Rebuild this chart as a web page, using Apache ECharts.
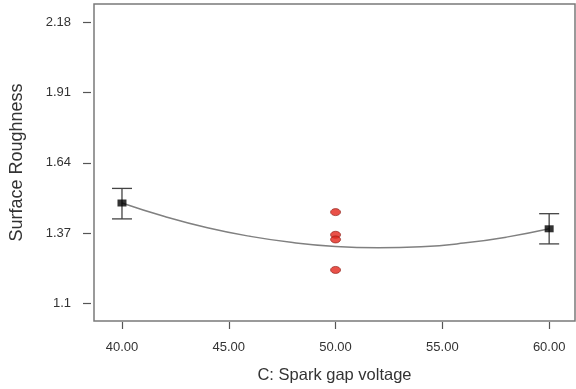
<!DOCTYPE html>
<html><head><meta charset="utf-8">
<script src="https://cdn.jsdelivr.net/npm/echarts@6/dist/echarts.min.js"></script>
<style>html,body{margin:0;padding:0;background:#fff}#c{width:576px;height:389px}</style>
</head><body><div id="c"></div>
<script>
// Data
const xTicks = [40, 45, 50, 55, 60];
const yTicks = [1.1, 1.37, 1.64, 1.91, 2.18];
const meanX = [40, 60];
const meanY = [1.486, 1.387];
const errLow = [1.425, 1.329];
const errHigh = [1.542, 1.445];
const centerX = [50, 50, 50, 50];
const centerY = [1.451, 1.364, 1.346, 1.229];
const curveX = [40, 42, 44, 46, 48, 50, 52, 54, 56, 58, 60];
const curveY = [1.486, 1.434, 1.391, 1.358, 1.334, 1.319, 1.314, 1.318, 1.332, 1.355, 1.387];

const chart = echarts.init(document.getElementById('c'), null, {renderer: 'canvas'});
const font = 'Liberation Sans, Arial, sans-serif';
chart.setOption({
  animation: false,
  grid: {left: 93, right: 1, top: 4, bottom: 68, show: true, borderColor: '#7a7a7a', borderWidth: 1.5, backgroundColor: '#fff'},
  xAxis: {
    type: 'value', min: 38.69, max: 61.21, offset: 1,
    name: 'C: Spark gap voltage', nameLocation: 'middle', nameGap: 45,
    nameTextStyle: {fontFamily: font, fontSize: 16.5, color: '#333'},
    axisLine: {show: false},
    splitLine: {show: false},
    axisTick: {show: true, length: 7, lineStyle: {color: '#555', width: 1.2}, customValues: xTicks},
    axisLabel: {margin: 19, fontFamily: font, fontSize: 13, color: '#333', customValues: xTicks,
      formatter: v => v.toFixed(2)}
  },
  yAxis: {
    type: 'value', min: 1.033, max: 2.25, offset: 3,
    name: 'Surface Roughness', nameLocation: 'middle', nameGap: 65,
    nameTextStyle: {fontFamily: font, fontSize: 18, color: '#333'},
    axisLine: {show: false},
    splitLine: {show: false},
    axisTick: {show: true, length: 8, lineStyle: {color: '#555', width: 1.2}, customValues: yTicks},
    axisLabel: {margin: 20, fontFamily: font, fontSize: 13, color: '#333', customValues: yTicks,
      formatter: v => String(+v.toFixed(2))}
  },
  series: [
    {
      type: 'line', smooth: true, symbol: 'none',
      data: curveX.map((x, i) => [x, curveY[i]]),
      lineStyle: {color: '#808080', width: 1.5}, z: 2
    },
    {
      type: 'custom',
      data: meanX.map((x, i) => [x, errLow[i], errHigh[i]]),
      renderItem: function (params, api) {
        const lo = api.coord([api.value(0), api.value(1)]);
        const hi = api.coord([api.value(0), api.value(2)]);
        const hw = 10;
        const st = {stroke: '#444', lineWidth: 1.3};
        return {type: 'group', children: [
          {type: 'line', shape: {x1: lo[0], y1: lo[1], x2: hi[0], y2: hi[1]}, style: st},
          {type: 'line', shape: {x1: lo[0] - hw, y1: lo[1], x2: lo[0] + hw, y2: lo[1]}, style: st},
          {type: 'line', shape: {x1: hi[0] - hw, y1: hi[1], x2: hi[0] + hw, y2: hi[1]}, style: st}
        ]};
      }, z: 3
    },
    {
      type: 'scatter', symbol: 'rect', symbolSize: [9, 7],
      data: meanX.map((x, i) => [x, meanY[i]]),
      itemStyle: {color: '#000'}, z: 4
    },
    {
      type: 'scatter', symbol: 'circle', symbolSize: [10, 7],
      data: centerX.map((x, i) => [x, centerY[i]]),
      itemStyle: {color: '#e3261b', borderColor: '#8a1a12', borderWidth: 0.8}, z: 5
    }
  ]
});
</script></body></html>
